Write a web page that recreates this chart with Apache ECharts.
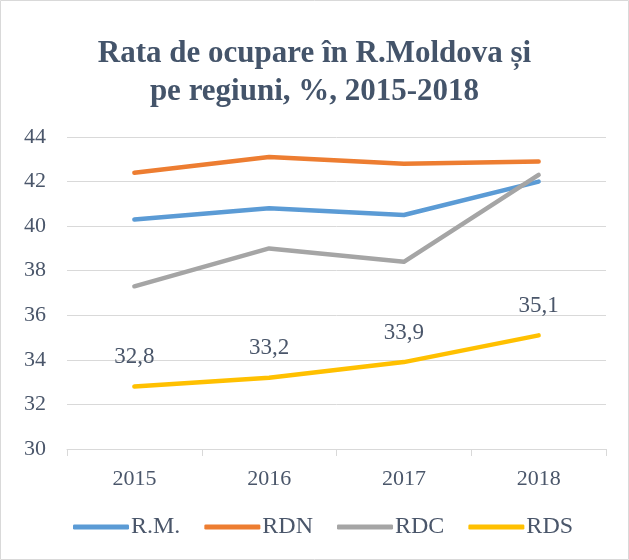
<!DOCTYPE html>
<html>
<head>
<meta charset="utf-8">
<style>
  html, body { margin: 0; padding: 0; background: #fff; }
  #chart { width: 629px; height: 560px; }
</style>
<script src="https://cdn.jsdelivr.net/npm/echarts@6/dist/echarts.min.js"></script>
</head>
<body>
<div id="chart"></div>
<script>
var years = ['2015', '2016', '2017', '2018'];
var rm = [40.3, 40.8, 40.5, 42.0];
var rdn = [42.4, 43.1, 42.8, 42.9];
var rdc = [37.3, 39.0, 38.4, 42.3];
var rds = [32.8, 33.2, 33.9, 35.1];
var seriesNames = ['R.M.', 'RDN', 'RDC', 'RDS'];
var colors = ['#5B9BD5', '#ED7D31', '#A5A5A5', '#FFC000'];

var serif = '"Liberation Serif", "Times New Roman", serif';
var textColor = '#4A566A';
var chart = echarts.init(document.getElementById('chart'), null, { renderer: 'canvas' });

function lineSeries(name, data, color, withLabels) {
  return {
    name: name,
    type: 'line',
    data: data,
    symbol: 'circle',
    symbolSize: 0.1,
    showSymbol: true,
    lineStyle: { color: color, width: 4.5, cap: 'round', join: 'round' },
    itemStyle: { color: color },
    label: {
      show: withLabels,
      position: 'top',
      distance: 18,
      fontFamily: serif,
      fontSize: 23,
      color: textColor,
      formatter: function(p) { return String(p.value).replace('.', ','); }
    }
  };
}

chart.setOption({
  animation: false,
  color: colors,
  textStyle: { fontFamily: serif },
  title: {
    text: 'Rata de ocupare în R.Moldova și\npe regiuni, %, 2015-2018',
    left: 'center',
    top: 30,
    textStyle: {
      fontFamily: serif,
      fontSize: 31,
      fontWeight: 'bold',
      color: '#44546A',
      lineHeight: 38
    }
  },
  grid: { left: 67, right: 23, top: 137, bottom: 111 },
  xAxis: {
    type: 'category',
    data: years,
    axisLine: { lineStyle: { color: '#D9D9D9', width: 1 } },
    axisTick: { show: true, length: 7, lineStyle: { color: '#D9D9D9' } },
    axisLabel: { fontFamily: serif, fontSize: 22, color: textColor, margin: 19 }
  },
  yAxis: {
    type: 'value',
    min: 30,
    max: 44,
    interval: 2,
    axisLine: { show: false },
    axisTick: { show: false },
    axisLabel: { fontFamily: serif, fontSize: 22, color: textColor, margin: 21 },
    splitLine: { lineStyle: { color: '#D9D9D9', width: 1 } }
  },
  legend: {
    bottom: 16,
    left: 68,
    data: seriesNames,
    icon: 'roundRect',
    itemWidth: 56,
    itemHeight: 5,
    itemGap: 24,
    textStyle: { fontFamily: serif, fontSize: 24, color: textColor, padding: [0, 0, 0, -3] }
  },
  graphic: [{
    type: 'rect',
    shape: { x: 0.5, y: 0.5, width: 628, height: 559 },
    style: { fill: 'none', stroke: '#D9D9D9', lineWidth: 1 },
    silent: true
  }],
  series: [
    lineSeries(seriesNames[0], rm, colors[0], false),
    lineSeries(seriesNames[1], rdn, colors[1], false),
    lineSeries(seriesNames[2], rdc, colors[2], false),
    lineSeries(seriesNames[3], rds, colors[3], true)
  ]
});
window.addEventListener('resize', function() { chart.resize(); });
</script>
</body>
</html>
